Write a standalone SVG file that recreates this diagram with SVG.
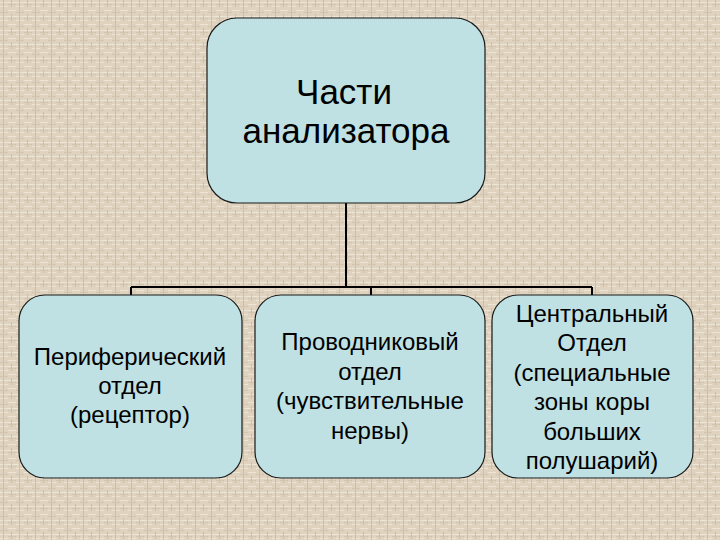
<svg xmlns="http://www.w3.org/2000/svg" width="720" height="540" viewBox="0 0 720 540">
  <defs>
    <pattern id="bg" x="0" y="0" width="16" height="14" patternUnits="userSpaceOnUse">
      <rect width="16" height="14" fill="#dfd3bf"/>
      <path d="M0 2.5H16M0 6.5H8M8 10.5H16" stroke="#ece4d5" stroke-width="1"/>
      <path d="M3.5 0V14M11.5 0V7" stroke="#cdbea6" stroke-width="1"/>
      <path d="M0 12.5H8M8 4.5H16" stroke="#d2c4ad" stroke-width="1"/>
    </pattern>
    <style>
      .box { fill: #bfe1e3; stroke: #1a1a1a; stroke-width: 1.2; }
      .conn { fill: none; stroke: #000; stroke-width: 2; }
      .t { font-family: "Liberation Sans", Arial, sans-serif; fill: #000; text-anchor: middle; }
      .big { font-size: 35px; }
      .small { font-size: 24px; }
    </style>
  </defs>
  <rect width="720" height="540" fill="url(#bg)"/>
  <g id="connectors">
    <path class="conn" d="M346 203V287M131 287H592M131 287V295M371 287V295M592 287V295"/>
  </g>
  <g id="root">
    <rect class="box" x="207" y="18" width="278" height="185" rx="30" ry="30"/>
    <text class="t big" x="344" y="104">Части</text>
    <text class="t big" x="346" y="143">анализатора</text>
  </g>
  <g id="peripheral">
    <rect class="box" x="19" y="295" width="223" height="183" rx="26" ry="26"/>
    <text class="t small" x="130" y="365">Периферический</text>
    <text class="t small" x="130" y="394">отдел</text>
    <text class="t small" x="130" y="423">(рецептор)</text>
  </g>
  <g id="conductive">
    <rect class="box" x="255" y="295" width="230" height="183" rx="26" ry="26"/>
    <text class="t small" x="370" y="350">Проводниковый</text>
    <text class="t small" x="370" y="380">отдел</text>
    <text class="t small" x="370" y="409">(чувствительные</text>
    <text class="t small" x="370" y="439">нервы)</text>
  </g>
  <g id="central">
    <rect class="box" x="492" y="295" width="201" height="183" rx="26" ry="26"/>
    <text class="t small" x="592" y="322">Центральный</text>
    <text class="t small" x="592" y="351">Отдел</text>
    <text class="t small" x="592" y="381">(специальные</text>
    <text class="t small" x="592" y="410">зоны коры</text>
    <text class="t small" x="592" y="440">больших</text>
    <text class="t small" x="592" y="469">полушарий)</text>
  </g>
</svg>
